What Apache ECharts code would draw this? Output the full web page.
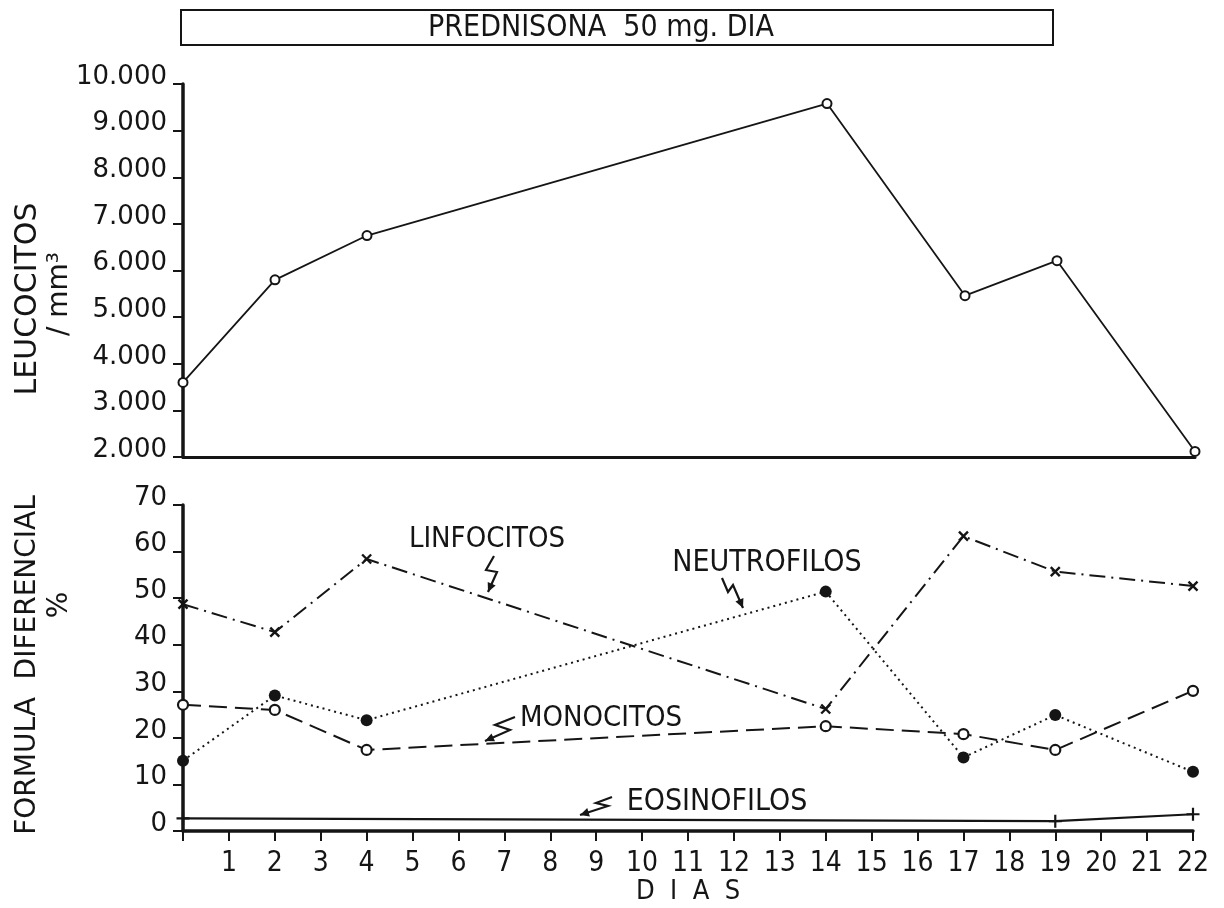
<!DOCTYPE html>
<html>
<head>
<meta charset="utf-8">
<script src="https://cdn.jsdelivr.net/npm/echarts@6/dist/echarts.min.js"></script>
<style>
html,body{margin:0;padding:0;background:#fff;}
#chart{width:1224px;height:908px;}
</style>
</head>
<body>
<div id="chart"></div>
<script>
// ---- data ----
const diasLeuco = [0, 2, 4, 14, 17, 19, 22];
const leucocitos = [3600, 5800, 6750, 9580, 5460, 6210, 2120];

const diasFormula = [0, 2, 4, 14, 17, 19, 22];
const linfocitos = [48.7, 42.7, 58.4, 26.2, 63.3, 55.7, 52.6];
const neutrofilos = [15.1, 29.1, 23.8, 51.4, 15.8, 24.9, 12.7];
const monocitos = [27.1, 26.0, 17.4, 22.5, 20.8, 17.4, 30.1];

const diasEos = [0, 19, 22];
const eosinofilos = [2.7, 2.1, 3.6];

const leucoTicks = [2000, 3000, 4000, 5000, 6000, 7000, 8000, 9000, 10000];
const formulaTicks = [0, 10, 20, 30, 40, 50, 60, 70];

const pairs = (xs, ys) => xs.map((x, i) => [x, ys[i]]);

const INK = '#151515';
const FONT = "'DejaVu Sans', sans-serif";
const NARROW = "'Liberation Sans Narrow', 'DejaVu Sans Condensed', 'Liberation Sans', sans-serif";

const chart = echarts.init(document.getElementById('chart'));

const yLabel = {
  color: INK, fontFamily: FONT, fontSize: 26, margin: 16,
  verticalAlign: 'bottom', lineHeight: 14
};

function arrow(points, headLen) {
  const n = points.length;
  const [x1, y1] = points[n - 2];
  const [x2, y2] = points[n - 1];
  const a = Math.atan2(y2 - y1, x2 - x1);
  const h = headLen || 10, w = 0.45;
  const p1 = [x2 - h * Math.cos(a - w), y2 - h * Math.sin(a - w)];
  const p2 = [x2 - h * Math.cos(a + w), y2 - h * Math.sin(a + w)];
  return [
    { type: 'polyline', shape: { points: points }, style: { stroke: INK, lineWidth: 2.2, fill: null } },
    { type: 'polygon', shape: { points: [[x2, y2], p1, p2] }, style: { fill: INK } }
  ];
}

const annoText = (txt, x, y, size) => ({
  type: 'text', x: x, y: y,
  style: { text: txt, fill: INK, font: (size || 24) + 'px ' + NARROW, align: 'center', verticalAlign: 'middle' }
});

const option = {
  backgroundColor: '#fff',
  animation: false,
  grid: [
    { left: 183, right: 29, top: 84, height: 373 },
    { left: 183, right: 31, top: 505, height: 326 }
  ],
  xAxis: [
    {
      gridIndex: 0, type: 'value', min: 0, max: 22, interval: 1,
      axisLine: { show: true, onZero: false, lineStyle: { color: INK, width: 3 } },
      axisTick: { show: false }, axisLabel: { show: false }, splitLine: { show: false }
    },
    {
      gridIndex: 1, type: 'value', min: 0, max: 22, interval: 1,
      axisLine: { show: true, onZero: false, lineStyle: { color: INK, width: 3.5 } },
      axisTick: { show: true, length: 10, inside: false, lineStyle: { color: INK, width: 2 } },
      axisLabel: {
        color: INK, fontFamily: NARROW, fontSize: 28, margin: 19,
        formatter: v => (v === 0 ? '' : String(v))
      },
      splitLine: { show: false },
      name: 'D  I  A  S', nameLocation: 'middle', nameGap: 47,
      nameTextStyle: { color: INK, fontFamily: NARROW, fontSize: 27 }
    }
  ],
  yAxis: [
    {
      gridIndex: 0, type: 'value', min: leucoTicks[0], max: leucoTicks[leucoTicks.length - 1], interval: 1000,
      axisLine: { show: true, lineStyle: { color: INK, width: 3.5 } },
      axisTick: { show: true, length: 10, lineStyle: { color: INK, width: 2 } },
      axisLabel: Object.assign({}, yLabel, { formatter: v => (v / 1000) + '.000' }),
      splitLine: { show: false }
    },
    {
      gridIndex: 1, type: 'value', min: formulaTicks[0], max: formulaTicks[formulaTicks.length - 1], interval: 10,
      axisLine: { show: true, lineStyle: { color: INK, width: 3.5 } },
      axisTick: { show: true, length: 10, lineStyle: { color: INK, width: 2 } },
      axisLabel: yLabel,
      splitLine: { show: false }
    }
  ],
  series: [
    {
      name: 'Leucocitos', type: 'line', xAxisIndex: 0, yAxisIndex: 0,
      data: pairs(diasLeuco, leucocitos),
      symbol: 'circle', symbolSize: 9,
      itemStyle: { color: '#fff', borderColor: INK, borderWidth: 2 },
      lineStyle: { color: INK, width: 1.8 }
    },
    {
      name: 'Linfocitos', type: 'line', xAxisIndex: 1, yAxisIndex: 1,
      data: pairs(diasFormula, linfocitos),
      symbol: 'path://M0,0L10,10M10,0L0,10', symbolSize: 9,
      itemStyle: { color: INK, borderColor: INK, borderWidth: 2.4 },
      lineStyle: { color: INK, width: 2, type: [16, 6, 2, 6] }
    },
    {
      name: 'Neutrofilos', type: 'line', xAxisIndex: 1, yAxisIndex: 1,
      data: pairs(diasFormula, neutrofilos),
      symbol: 'circle', symbolSize: 12,
      itemStyle: { color: INK, borderColor: INK, borderWidth: 0 },
      lineStyle: { color: INK, width: 2, type: [2, 4] }
    },
    {
      name: 'Monocitos', type: 'line', xAxisIndex: 1, yAxisIndex: 1,
      data: pairs(diasFormula, monocitos),
      symbol: 'circle', symbolSize: 10,
      itemStyle: { color: '#fff', borderColor: INK, borderWidth: 2.2 },
      lineStyle: { color: INK, width: 2, type: [18, 8] }
    },
    {
      name: 'Eosinofilos', type: 'line', xAxisIndex: 1, yAxisIndex: 1,
      data: pairs(diasEos, eosinofilos),
      symbol: 'path://M5,0L5,10M0,5L10,5', symbolSize: 13,
      itemStyle: { color: INK, borderColor: INK, borderWidth: 2.2 },
      lineStyle: { color: INK, width: 2.2 }
    }
  ],
  graphic: [].concat(
    [
      { type: 'rect', shape: { x: 181, y: 10, width: 872, height: 35 },
        style: { fill: null, stroke: INK, lineWidth: 2 } },
      annoText('PREDNISONA  50 mg. DIA', 601, 28, 30),
      { type: 'text', x: 28, y: 299, rotation: Math.PI / 2,
        style: { text: 'LEUCOCITOS', fill: INK, font: '30px ' + FONT, align: 'center', verticalAlign: 'middle' } },
      { type: 'text', x: 60, y: 294, rotation: Math.PI / 2,
        style: { text: '/ mm³', fill: INK, font: '28px ' + FONT, align: 'center', verticalAlign: 'middle' } },
      { type: 'text', x: 28, y: 665, rotation: Math.PI / 2,
        style: { text: 'FORMULA  DIFERENCIAL', fill: INK, font: '28px ' + FONT, align: 'center', verticalAlign: 'middle' } },
      { type: 'text', x: 60, y: 605, rotation: Math.PI / 2,
        style: { text: '%', fill: INK, font: '28px ' + FONT, align: 'center', verticalAlign: 'middle' } },
      annoText('LINFOCITOS', 487, 539, 29),
      annoText('NEUTROFILOS', 767, 563, 30),
      annoText('MONOCITOS', 601, 718, 29),
      annoText('EOSINOFILOS', 717, 802, 30)
    ],
    arrow([[494, 556], [486, 570], [497, 572], [488, 592]]),
    arrow([[722, 578], [728, 592], [733, 585], [743, 608]]),
    arrow([[515, 717], [495, 725], [510, 730], [485, 741]]),
    arrow([[612, 797], [596, 803], [608, 806], [580, 815]])
  )
};

chart.setOption(option);
</script>
</body>
</html>
